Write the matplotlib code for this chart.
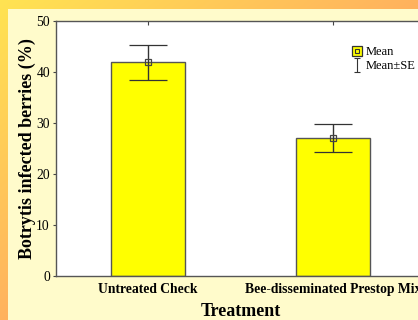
import matplotlib.pyplot as plt
import numpy as np
from matplotlib.colors import LinearSegmentedColormap
from matplotlib.lines import Line2D
from matplotlib.patches import Rectangle
from matplotlib.path import Path

categories = ["Untreated Check", "Bee-disseminated Prestop Mix"]
means = [41.9, 27.1]
se = [3.4, 2.8]
yticks = [0, 10, 20, 30, 40, 50]

W, H = 418, 320
fig = plt.figure(figsize=(W / 100, H / 100), dpi=100)

# diagonal yellow -> orange background
bg = fig.add_axes([0, 0, 1, 1], zorder=-2)
yy, xx = np.mgrid[0:1:200j, 0:1:200j]
grad = (xx + yy) / 2
cmap = LinearSegmentedColormap.from_list("bg", ["#ffe352", "#ffb25e", "#ffa05c"])
bg.imshow(grad, cmap=cmap, extent=[0, 1, 0, 1], aspect="auto", origin="upper")
bg.add_patch(Rectangle((8 / W, 0), 1, 1 - 9 / H, color="#fffbcb", lw=0))
bg.set_xlim(0, 1)
bg.set_ylim(0, 1)
bg.axis("off")

# axes: left 55.5px, top 21px, bottom 276px; right edge lies outside the picture
left, right = 55.5 / W, 425.5 / W
bottom, top = 1 - 276 / H, 1 - 21 / H
ax = fig.add_axes([left, bottom, right - left, top - bottom])
ax.set_facecolor("white")

x = np.arange(1, len(categories) + 1)
ax.bar(x, means, width=0.4, color="#ffff00", edgecolor="#555555", linewidth=1.0, zorder=2)
ax.errorbar(x, means, yerr=se, fmt="s", ms=4, mfc="none", mec="#444444", mew=0.9,
            ecolor="#333333", elinewidth=1.0, capsize=13.5, capthick=1.0, zorder=3)

ax.set_xlim(0.5, 2.5)
ax.set_ylim(0, 50)
ax.set_yticks(yticks)
ax.set_xticks(x)
ax.set_xticklabels(categories, family="Liberation Serif", fontweight="bold", fontsize=9.8)
ax.set_yticklabels([str(t) for t in yticks], family="Liberation Serif", fontsize=9.8)
ax.tick_params(axis="x", direction="in", top=True, length=3, pad=5, color="#444444")
ax.tick_params(axis="y", direction="out", length=2, pad=2, color="#444444")
for s in ax.spines.values():
    s.set_color("#555555")
    s.set_linewidth(1.0)

ax.set_xlabel("Treatment", family="Liberation Serif", fontweight="bold", fontsize=13, labelpad=5)
ax.set_ylabel("Botrytis infected berries (%)", family="Liberation Serif", fontweight="bold",
              fontsize=13, labelpad=0)

# legend symbols: yellow box with mean marker, and an error-bar "I"
box_h = Line2D([], [], marker="s", ms=7.5, mfc="#ffff00", mec="#333333", mew=0.9, ls="none")
dot_h = Line2D([], [], marker="s", ms=3.5, mfc="none", mec="#333333", mew=0.8, ls="none")
ibar = Path([(-0.5, -1), (0.5, -1), (0, -1), (0, 1), (-0.5, 1), (0.5, 1)],
            [Path.MOVETO, Path.LINETO, Path.MOVETO, Path.LINETO, Path.MOVETO, Path.LINETO])
se_h = Line2D([], [], marker=ibar, ms=10, mec="#333333", mew=0.8, ls="none")
ax.legend([(box_h, dot_h), se_h], ["Mean", "Mean\u00b1SE"], loc="upper left",
          bbox_to_anchor=(0.785, 0.925), frameon=False,
          prop={"family": "Liberation Serif", "size": 9},
          handlelength=0.8, handletextpad=0.3, labelspacing=0.15, borderpad=0)

fig.savefig("out.png", dpi=100)
